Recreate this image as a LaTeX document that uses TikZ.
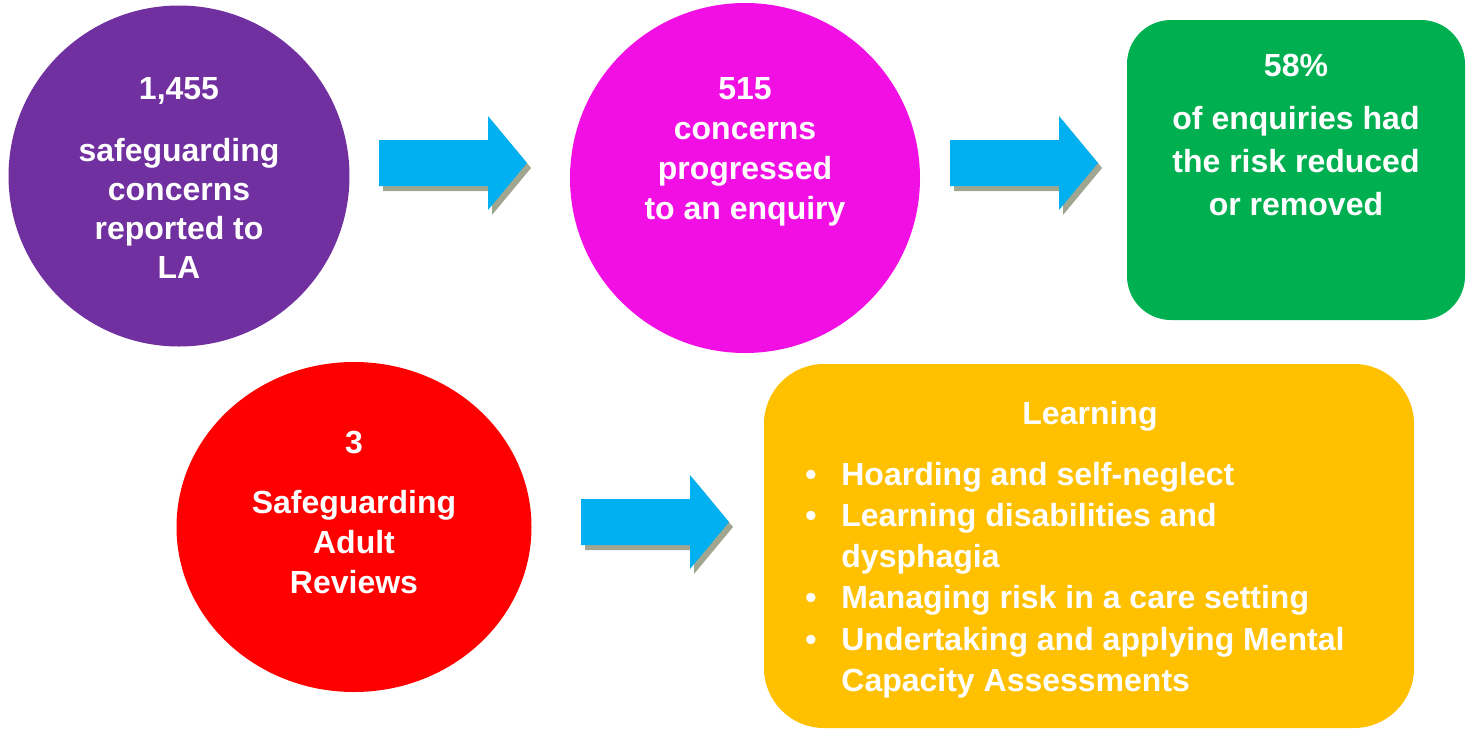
\documentclass[tikz,border=0pt]{standalone}
\usepackage{fontspec}
\setmainfont{Liberation Sans}
\usetikzlibrary{shapes.geometric}

\definecolor{sgpurple}{HTML}{7030A0}
\definecolor{sgmagenta}{HTML}{F20FE4}
\definecolor{sggreen}{HTML}{00B050}
\definecolor{sgred}{HTML}{FF0000}
\definecolor{sgorange}{HTML}{FFC000}
\definecolor{sgblue}{HTML}{00B0F0}
\definecolor{sgshadow}{RGB}{160,166,143}

\begin{document}
\begin{tikzpicture}[x=0.5pt,y=-0.5pt,
  shape node/.style={inner sep=0pt,outer sep=0pt},
  round node/.style={shape node,circle},
  card node/.style={shape node,rectangle},
  text node/.style={text=white,inner sep=0pt,align=center,anchor=north},
  list node/.style={text=white,inner sep=0pt,anchor=north west,
    font=\bfseries\fontsize{16}{20.6}\selectfont},
  block arrow/.pic={
    \fill[sgshadow,shift={(4,5)}] (0,-23) -- (109,-23) -- (109,-47) -- (148,0)
      -- (109,47) -- (109,23) -- (0,23) -- cycle;
    \fill[sgblue] (0,-23) -- (109,-23) -- (109,-47) -- (148,0)
      -- (109,47) -- (109,23) -- (0,23) -- cycle;
  }]

  \useasboundingbox (0,0) rectangle (1474,729);

  \node[round node, fill=sgpurple, minimum size=170.5pt] (concerns) at (179,176) {};
  \node[round node, fill=sgmagenta, minimum size=175pt] (enquiry) at (745,178) {};
  \node[card node, fill=sggreen, minimum width=169pt, minimum height=150pt,
    rounded corners=22pt] (reduced) at (1296,170) {};
  \node[shape node, ellipse, fill=sgred, minimum width=177.5pt,
    minimum height=165pt] (reviews) at (354,527) {};
  \node[card node, fill=sgorange, minimum width=325pt, minimum height=182pt,
    rounded corners=30pt] (learning) at (1089,546) {};

  \pic at (379,163) {block arrow};
  \pic at (950,163) {block arrow};
  \pic at (581,522) {block arrow};

  \node[text node, font=\bfseries\fontsize{16}{19.5}\selectfont] (concerns text) at (179,77)
    {1,455\\[11.5pt]safeguarding\\concerns\\reported to\\LA};
  \node[text node, font=\bfseries\fontsize{16}{20}\selectfont] (enquiry text) at (745,77)
    {515\\concerns\\progressed\\to an enquiry};
  \node[text node, font=\bfseries\fontsize{16}{21.5}\selectfont] (reduced text) at (1296,54)
    {58\%\\[5pt]of enquiries had\\the risk reduced\\or removed};
  \node[text node, font=\bfseries\fontsize{16}{20}\selectfont] (reviews text) at (354,431)
    {3\\[10pt]Safeguarding\\Adult\\Reviews};
  \node[text node, font=\bfseries\fontsize{16}{20}\selectfont] (learning title) at (1090,401)
    {Learning};
  \node[list node] (learning list) at (805,456) {%
    \begin{tabular}{@{}l@{}l@{}}
      \makebox[18pt][l]{\textbullet} & Hoarding and self-neglect\\
      \makebox[18pt][l]{\textbullet} & Learning disabilities and\\
                                     & dysphagia\\
      \makebox[18pt][l]{\textbullet} & Managing risk in a care setting\\
      \makebox[18pt][l]{\textbullet} & Undertaking and applying Mental\\
                                     & Capacity Assessments
    \end{tabular}};
\end{tikzpicture}
\end{document}
